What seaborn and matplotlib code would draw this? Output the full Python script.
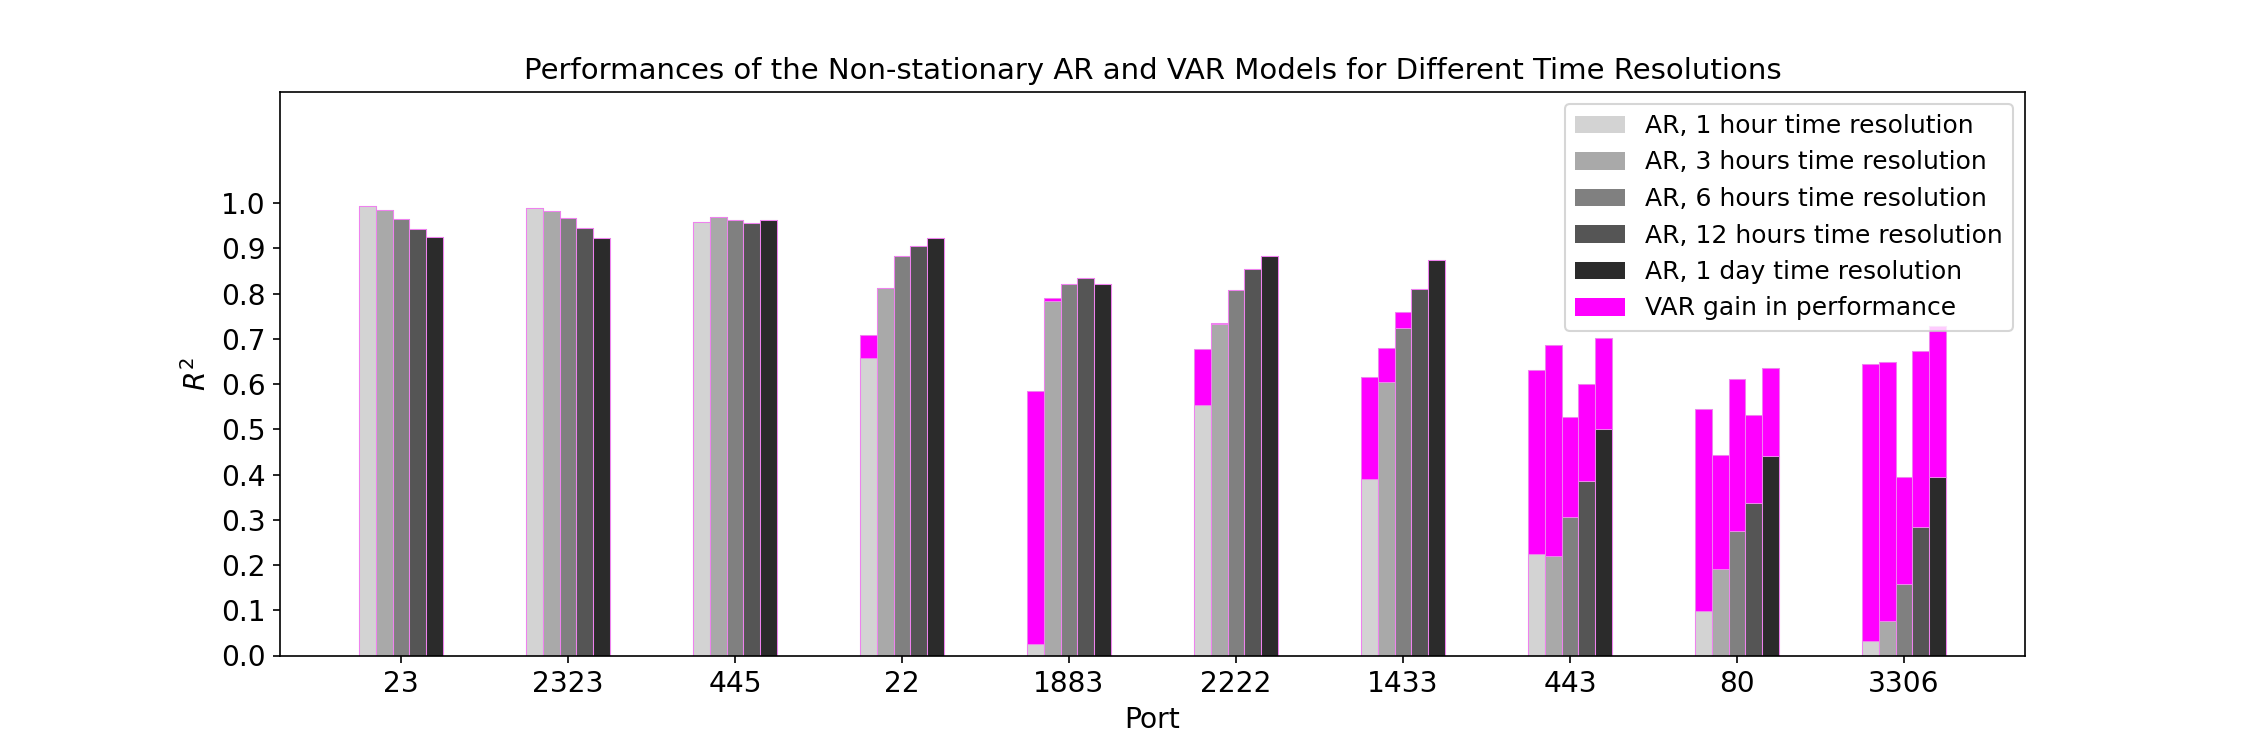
import pandas as pd
import seaborn as sns
import matplotlib.pyplot as plt
from matplotlib.patches import Patch

# Data
ports = ['23', '2323', '445', '22', '1883', '2222', '1433', '443', '80', '3306']
resolutions = ['1 hour', '3 hours', '6 hours', '12 hours', '1 day']

ar_1h = [0.993, 0.989, 0.958, 0.658, 0.025, 0.554, 0.390, 0.224, 0.099, 0.032]
ar_3h = [0.985, 0.983, 0.969, 0.812, 0.783, 0.733, 0.605, 0.221, 0.192, 0.077]
ar_6h = [0.965, 0.966, 0.963, 0.882, 0.821, 0.808, 0.724, 0.306, 0.275, 0.159]
ar_12h = [0.942, 0.944, 0.956, 0.906, 0.835, 0.855, 0.810, 0.385, 0.336, 0.285]
ar_1d = [0.926, 0.923, 0.962, 0.922, 0.822, 0.882, 0.875, 0.501, 0.441, 0.395]

var_1h = [0.993, 0.989, 0.958, 0.709, 0.584, 0.678, 0.615, 0.632, 0.545, 0.645]
var_3h = [0.985, 0.983, 0.969, 0.812, 0.790, 0.736, 0.679, 0.687, 0.443, 0.648]
var_6h = [0.965, 0.966, 0.963, 0.882, 0.821, 0.808, 0.759, 0.528, 0.611, 0.395]
var_12h = [0.942, 0.944, 0.956, 0.906, 0.835, 0.855, 0.810, 0.600, 0.532, 0.672]
var_1d = [0.926, 0.923, 0.962, 0.922, 0.822, 0.882, 0.875, 0.701, 0.636, 0.729]

grays = ['#d3d3d3', '#a9a9a9', '#808080', '#555555', '#2b2b2b']


def build_frame():
    ar_all = [ar_1h, ar_3h, ar_6h, ar_12h, ar_1d]
    var_all = [var_1h, var_3h, var_6h, var_12h, var_1d]
    rows = []
    for res, ar_vals, var_vals in zip(resolutions, ar_all, var_all):
        for port, a, v in zip(ports, ar_vals, var_vals):
            rows.append({'Port': port, 'Resolution': res, 'AR': a, 'VAR': v})
    return pd.DataFrame(rows)


def plot(df):
    fig, ax = plt.subplots(figsize=(15, 5), dpi=150)
    fig.subplots_adjust(left=0.1244, right=0.9, top=0.878, bottom=0.126)

    # VAR bars in magenta behind, AR bars in grays on top -> visible gain
    sns.barplot(data=df, x='Port', y='VAR', hue='Resolution', order=ports,
                hue_order=resolutions, palette=['#ff00ff'] * 5, width=0.5,
                saturation=1, errorbar=None, edgecolor='violet', linewidth=0.5,
                legend=False, ax=ax)
    sns.barplot(data=df, x='Port', y='AR', hue='Resolution', order=ports,
                hue_order=resolutions, palette=grays, width=0.5,
                saturation=1, errorbar=None, edgecolor='violet', linewidth=0.5,
                legend=False, ax=ax)

    ax.set_xlim(-0.725, len(ports) - 1 + 0.725)
    ax.set_ylim(0, 1.2467)
    ax.set_yticks([i / 10 for i in range(11)])
    ax.tick_params(labelsize=13.5)

    ax.set_title('Performances of the Non-stationary AR and VAR Models for Different Time Resolutions',
                 fontsize=14)
    ax.set_xlabel('Port', fontsize=13.5)
    ax.set_ylabel('$R^2$', fontsize=13.5)

    handles = [Patch(facecolor=c, label=f'AR, {r} time resolution') for c, r in zip(grays, resolutions)]
    handles.append(Patch(facecolor='#ff00ff', label='VAR gain in performance'))
    ax.legend(handles=handles, loc='upper right', fontsize=12)

    fig.savefig('out.png')


if __name__ == "__main__":
    plot(build_frame())
